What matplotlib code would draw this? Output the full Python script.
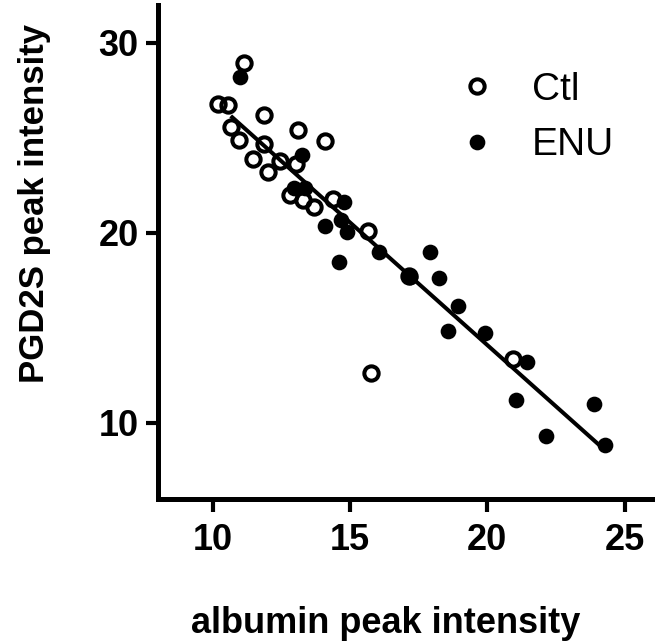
import matplotlib
matplotlib.use("Agg")
import matplotlib.pyplot as plt
import numpy as np

# ---- data ----
ctl_x = [11.12, 10.18, 10.55, 11.85, 10.67, 10.95, 13.10, 14.08, 11.87, 11.46,
         12.45, 12.01, 13.02, 12.80, 13.30, 13.70, 14.37, 15.67, 15.75, 17.13, 20.95]
ctl_y = [28.95, 26.78, 26.72, 26.22, 25.58, 24.87, 25.40, 24.82, 24.70, 23.92,
         23.78, 23.22, 23.62, 22.00, 21.75, 21.35, 21.78, 20.12, 12.62, 17.74, 13.36]

enu_x = [10.98, 13.23, 12.95, 13.35, 14.79, 14.10, 14.66, 14.88, 14.59, 16.07,
         17.20, 17.90, 18.24, 18.92, 18.58, 19.90, 21.45, 21.05, 22.15, 23.87, 24.30]
enu_y = [28.21, 24.08, 22.35, 22.35, 21.62, 20.37, 20.66, 20.07, 18.45, 19.00,
         17.70, 18.98, 17.62, 16.14, 14.86, 14.73, 13.20, 11.20, 9.34, 11.02, 8.84]

fit_slope = -1.29
fit_intercept = 39.9
fit_range = [10.65, 24.25]

x_ticks = [10, 15, 20, 25]
y_ticks = [10, 20, 30]
x_label = "albumin peak intensity"
y_label = "PGD2S peak intensity"
series_names = ["Ctl", "ENU"]

# ---- figure ----
plt.rcParams['font.family'] = ['Liberation Sans', 'DejaVu Sans']
W, H = 658, 642
fig = plt.figure(figsize=(W / 100, H / 100), dpi=100)
L, R, T, B = 158, 652, 5, 499
ax = fig.add_axes([L / W, 1 - B / H, (R - L) / W, (B - T) / H])

fx = np.array(fit_range)
ax.plot(fx, fit_intercept + fit_slope * fx, color='black', lw=2.9,
        solid_capstyle='butt', zorder=2)

ax.plot(ctl_x, ctl_y, linestyle='none', marker='o', ms=10.3, mew=2.9,
        mfc='none', mec='black', label=series_names[0], zorder=3)
ax.plot(enu_x, enu_y, linestyle='none', marker='o', ms=11.3, mew=0,
        mfc='black', mec='black', label=series_names[1], zorder=3)

ax.set_xlim(8, 26)
ax.set_ylim(6, 32)
ax.set_xticks(x_ticks)
ax.set_yticks(y_ticks)

for s in ['top', 'right']:
    ax.spines[s].set_visible(False)
for s in ['left', 'bottom']:
    ax.spines[s].set_linewidth(3.6)

ax.tick_params(axis='both', direction='out', length=9, width=3, labelsize=26)
ax.tick_params(axis='x', pad=8)
ax.tick_params(axis='y', pad=5)
for lab in ax.get_xticklabels() + ax.get_yticklabels():
    lab.set_fontweight('bold')

ax.set_xlabel(x_label, fontsize=26, fontweight='bold')
ax.set_ylabel(y_label, fontsize=25, fontweight='bold')
ax.xaxis.set_label_coords((385.5 - L) / (R - L), -(606 - B) / (B - T))
ax.yaxis.set_label_coords(-(158 - 51) / (R - L), (B - 203) / (B - T))

leg = ax.legend(loc='upper left', bbox_to_anchor=((458 - L) / (R - L), (B - 72) / (B - T)),
                frameon=False, fontsize=28, handlelength=1.0, handletextpad=0.9,
                labelspacing=0.5, borderaxespad=0, borderpad=0)

fig.savefig("out.png", dpi=100)
